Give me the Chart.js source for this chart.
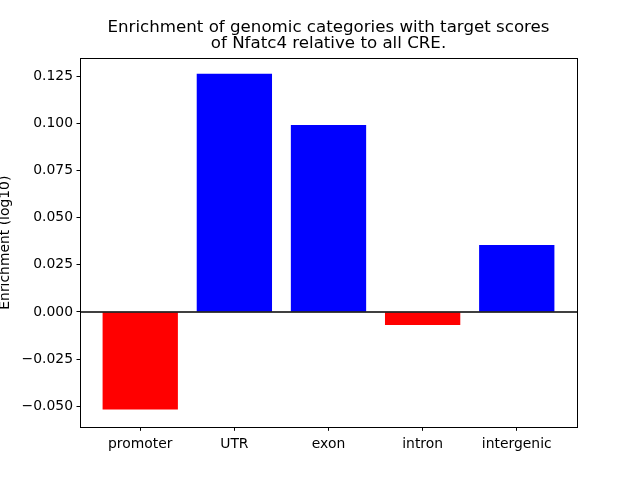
<!DOCTYPE html>
<html>
<head>
<meta charset="utf-8">
<script src="https://cdn.jsdelivr.net/npm/chart.js@4"></script>
<style>
html,body{margin:0;padding:0;background:#fff;}
#wrap{width:640px;height:480px;}
</style>
</head>
<body>
<div id="wrap"><canvas id="c" width="640" height="480"></canvas></div>
<script>
const categories = ['promoter', 'UTR', 'exon', 'intron', 'intergenic'];
const enrichment = [-0.0518, 0.1263, 0.0992, -0.0069, 0.0355];
const yTicks = [-0.050, -0.025, 0.000, 0.025, 0.050, 0.075, 0.100, 0.125];
const titleLines = ['Enrichment of genomic categories with target scores', 'of Nfatc4 relative to all CRE.'];
const yLabel = 'Enrichment (log10)';

const FONT = "'DejaVu Sans', sans-serif";

const framePlugin = {
  id: 'frame',
  afterDatasetsDraw(chart) {
    const {ctx, chartArea: a, scales} = chart;
    ctx.save();
    const y0 = scales.y.getPixelForValue(0);
    ctx.strokeStyle = '#000';
    ctx.lineWidth = 1.5;
    ctx.beginPath();
    ctx.moveTo(a.left, y0);
    ctx.lineTo(a.right, y0);
    ctx.stroke();
    ctx.lineWidth = 1;
    ctx.strokeRect(Math.round(a.left) + 0.5, Math.round(a.top) + 0.5, Math.round(a.right - a.left), Math.round(a.bottom - a.top));
    ctx.restore();
  }
};

const data = categories.map((c, i) => ({x: i, y: enrichment[i]}));

new Chart(document.getElementById('c'), {
  type: 'bar',
  data: {
    datasets: [{
      data: data,
      backgroundColor: enrichment.map(v => v < 0 ? '#ff0000' : '#0000ff'),
      borderWidth: 0,
      barPercentage: 0.8,
      categoryPercentage: 1.0
    }]
  },
  options: {
    responsive: false,
    animation: false,
    events: [],
    layout: {padding: {left: 0, right: 63, top: 0, bottom: 0}},
    plugins: {
      legend: {display: false},
      tooltip: {enabled: false},
      title: {
        display: true,
        text: titleLines,
        fullSize: false,
        color: '#000',
        font: {family: FONT, size: 16.67, weight: 'normal', lineHeight: 1.0},
        padding: {top: 19, bottom: 5.7}
      }
    },
    scales: {
      x: {
        type: 'linear',
        min: -0.64,
        max: 4.64,
        offset: false,
        afterBuildTicks(scale) { scale.ticks = categories.map((c, i) => ({value: i})); },
        afterFit(scale) { scale.height = 52.7; },
        ticks: {
          callback: (v) => categories[v],
          color: '#000',
          font: {family: FONT, size: 13.9},
          padding: 5,
          maxRotation: 0,
          autoSkip: false
        },
        grid: {offset: false, drawOnChartArea: false, drawTicks: true, tickLength: 3.5, tickColor: '#000', tickWidth: 1},
        border: {display: false}
      },
      y: {
        type: 'linear',
        min: -0.0612,
        max: 0.1347,
        afterBuildTicks(scale) { scale.ticks = yTicks.map(v => ({value: v})); },
        afterFit(scale) { scale.width = 80; },
        ticks: {
          callback: (v) => (v < 0 ? '\u2212' : '') + Math.abs(v).toFixed(3),
          color: '#000',
          font: {family: FONT, size: 13.9},
          padding: 3.5,
          autoSkip: false
        },
        title: {
          display: true,
          text: yLabel,
          color: '#000',
          font: {family: FONT, size: 13.9, lineHeight: '11px'},
          padding: {top: 0, bottom: 0}
        },
        grid: {offset: false, drawOnChartArea: false, drawTicks: true, tickLength: 3.5, tickColor: '#000', tickWidth: 1},
        border: {display: false}
      }
    }
  },
  plugins: [framePlugin]
});
</script>
</body>
</html>
